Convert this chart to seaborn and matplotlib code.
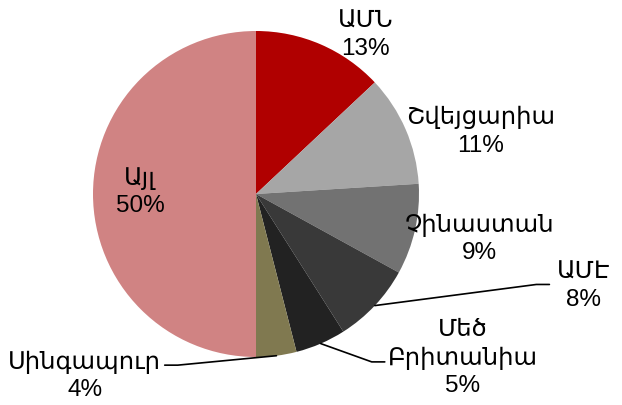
import numpy as np
import matplotlib
matplotlib.use("Agg")
import matplotlib.pyplot as plt
import seaborn as sns

countries = ["ԱՄՆ", "Շվեյցարիա", "Չինաստան", "ԱՄԷ", "Մեծ\nԲրիտանիա", "Սինգապուր", "Այլ"]
shares = [13, 11, 9, 8, 5, 4, 50]
colors = ["#B00000", "#A6A6A6", "#727272", "#393939", "#222222", "#807950", "#D08383"]

sns.set_theme(style="white")
plt.rcParams["font.family"] = ["Liberation Sans", "DejaVu Sans"]

fig = plt.figure(figsize=(6.22, 4.06), dpi=100)
ax = fig.add_axes([0, 0, 1, 1])
wedges, _ = ax.pie(shares, colors=colors, startangle=90, counterclock=False,
                   radius=1.0, wedgeprops=dict(linewidth=0))

# label layout: (x, y, leader end or None)
layout = [
    (0.67, 0.98, None),
    (1.38, 0.39, None),
    (1.37, -0.27, None),
    (2.01, -0.56, (1.80, -0.555)),
    (1.27, -1.00, (0.79, -1.03)),
    (-1.05, -1.11, (-0.56, -1.05)),
    (-0.71, 0.02, None),
]

for w, name, val, (x, y, end) in zip(wedges, countries, shares, layout):
    ax.text(x, y, f"{name}\n{val}%", ha="center", va="center", fontsize=17.5,
            linespacing=1.3, color="black")
    if end is not None:
        mid = np.deg2rad((w.theta1 + w.theta2) / 2)
        sx, sy = np.cos(mid), np.sin(mid)
        ex, ey = end
        hx = ex + (0.08 if ex < 0 else -0.08)
        ax.plot([sx, hx, ex], [sy, ey, ey], color="black", lw=1.2)

ax.set_xlim(-256 / 163, (622 - 256) / 163)
ax.set_ylim(-(406 - 195) / 163, 195 / 163)
ax.set_aspect("equal")
ax.axis("off")

fig.savefig("out.png", dpi=100)
